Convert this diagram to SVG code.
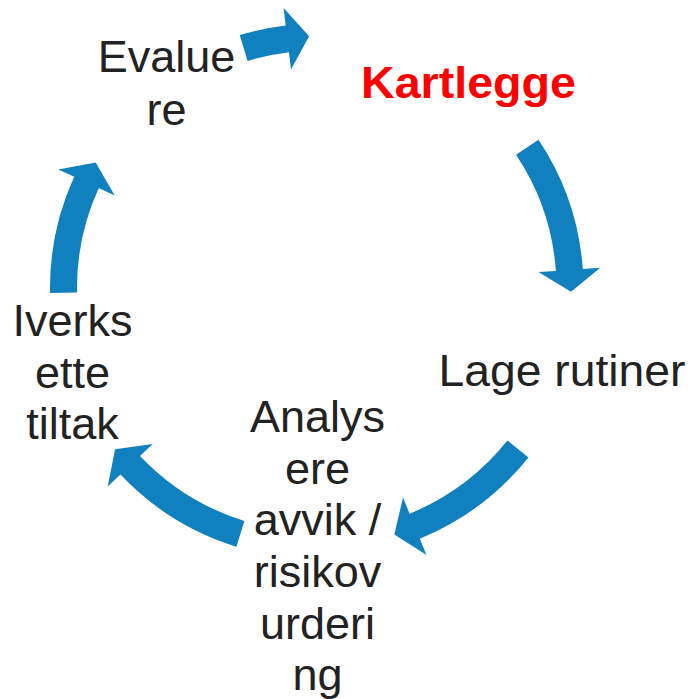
<svg xmlns="http://www.w3.org/2000/svg" width="693" height="699" viewBox="0 0 693 699">
<style>
.arrow{fill:#1180BF;stroke:none}
.lbl{font-family:"Liberation Sans",Arial,sans-serif;font-size:45px;fill:#222;text-anchor:middle}
.red{font-weight:bold;fill:#FF0000}
</style>
<rect width="693" height="699" fill="#fff"/>
<g id="connectors">
<path class="arrow" d="M239.7,35.1 A264.5,264.5 0 0 1 285.7,25.4 L283.6,8 L309.1,36.2 L291,69.5 L288.9,52.2 A237.5,237.5 0 0 0 247.6,60.9 Z"/>
<path class="arrow" d="M538.5,139.7 A266.5,266.5 0 0 1 582.8,269 L600.3,267.7 L571,291.8 L538.4,272.1 L555.9,270.9 A239.5,239.5 0 0 0 516,154.8 Z"/>
<path class="arrow" d="M528.5,457.4 A271,271 0 0 1 419.8,538.7 L426.5,554.9 L394.3,534.6 L403,497.6 L409.6,513.7 A244,244 0 0 0 507.4,440.5 Z"/>
<path class="arrow" d="M236.4,546.8 A271,271 0 0 1 120.4,474.6 L107.7,486.6 L115.1,449.3 L152.7,443.9 L140,456 A244,244 0 0 0 244.4,521 Z"/>
<path class="arrow" d="M50.05,293.1 A267,267 0 0 1 74.2,176.8 L58.3,169.6 L95.7,162.5 L114.7,195.4 L98.8,188.1 A240,240 0 0 0 77.04,292.6 Z"/>
</g>
<g id="evaluere"><text class="lbl" x="166.5" y="72">Evalue</text><text class="lbl" x="166.5" y="125">re</text></g>
<g id="kartlegge"><text class="lbl red" x="468.5" y="98" textLength="215" lengthAdjust="spacingAndGlyphs">Kartlegge</text></g>
<g id="lage-rutiner"><text class="lbl" x="562" y="386" textLength="247" lengthAdjust="spacingAndGlyphs">Lage rutiner</text></g>
<g id="analysere"><text class="lbl" x="317.5" y="432">Analys</text><text class="lbl" x="317.5" y="483.5">ere</text><text class="lbl" x="317.5" y="535">avvik /</text><text class="lbl" x="317.5" y="587">risikov</text><text class="lbl" x="317.5" y="638.5">urderi</text><text class="lbl" x="317.5" y="690">ng</text></g>
<g id="iverksette"><text class="lbl" x="72.5" y="336">Iverks</text><text class="lbl" x="72.5" y="387.5">ette</text><text class="lbl" x="72.5" y="439">tiltak</text></g>
</svg>
